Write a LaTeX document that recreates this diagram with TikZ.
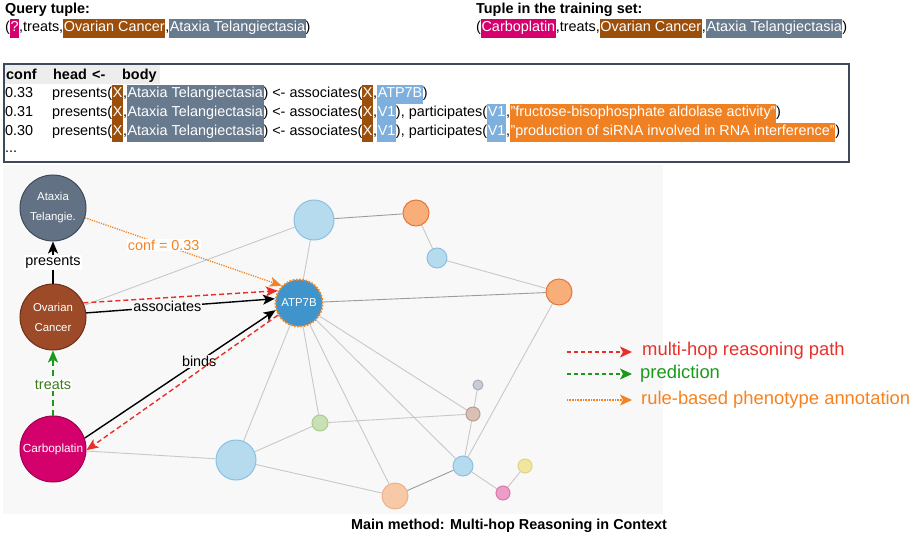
\documentclass[tikz,border=0pt]{standalone}
\usepackage{fontspec}
\setmainfont{Liberation Sans}
\usetikzlibrary{arrows.meta}
\pgfdeclarelayer{bg}
\pgfsetlayers{bg,main}
\definecolor{qmag}{HTML}{D5006E}
\definecolor{ovc}{HTML}{9C4F0B}
\definecolor{atc}{HTML}{687A8D}
\definecolor{vbl}{HTML}{7EAFDD}
\definecolor{orph}{HTML}{F08122}
\definecolor{panel}{HTML}{F8F8F8}
\definecolor{boxln}{HTML}{3C4A5C}
\definecolor{edgeg}{HTML}{C8C8C8}
\definecolor{edged}{HTML}{9C9C9C}
\definecolor{lbF}{HTML}{B6DBEE}\definecolor{lbD}{HTML}{8CC0E0}
\definecolor{orF}{HTML}{F8AE78}\definecolor{orD}{HTML}{E8743A}
\definecolor{peF}{HTML}{F8C9A6}\definecolor{peD}{HTML}{F0B088}
\definecolor{grF}{HTML}{C8E0B4}\definecolor{grD}{HTML}{A8CC90}
\definecolor{gyF}{HTML}{C8CCD4}\definecolor{gyD}{HTML}{A8ACB8}
\definecolor{brF}{HTML}{D8C0B4}\definecolor{brD}{HTML}{BC9A8C}
\definecolor{yeF}{HTML}{F0E6A0}\definecolor{yeD}{HTML}{E0D480}
\definecolor{piF}{HTML}{EC9EC8}\definecolor{piD}{HTML}{D878B0}
\definecolor{axF}{HTML}{627184}\definecolor{axD}{HTML}{3E4A5A}
\definecolor{ovF}{HTML}{9C4A28}\definecolor{ovD}{HTML}{6E3018}
\definecolor{caF}{HTML}{D4006C}\definecolor{caD}{HTML}{A00050}
\definecolor{atpF}{HTML}{3F94CC}
\definecolor{redp}{HTML}{E8302A}
\definecolor{grnp}{HTML}{1A9A1A}
\definecolor{grnt}{HTML}{3A7A1A}
\definecolor{orgp}{HTML}{F5821F}
\newcommand\hl[2]{{\setlength{\fboxsep}{0.6pt}\colorbox{#1}{\textcolor{white}{\strut #2}}}}
\tikzset{
  txt/.style={inner sep=0pt, anchor=base west, font=\fontsize{14.4}{17}\selectfont},
  bold/.style={txt, font=\fontsize{14.4}{17}\selectfont\bfseries},
  gn/.style={circle, line width=1pt, inner sep=0pt},
  big/.style={gn, text=white, align=center, font=\fontsize{11.4}{20}\selectfont, minimum size=66pt},
  ge/.style={draw=edgeg, line width=0.9pt},
  gd/.style={draw=edged, line width=0.9pt},
  tip/.style={-{Stealth[length=12pt,width=10pt,inset=3pt]}},
  blk/.style={tip, draw=black, line width=1.4pt},
  redd/.style={tip, draw=redp, line width=1.4pt, dash pattern=on 5pt off 3pt},
  grnd/.style={tip, draw=grnp, line width=2.2pt, dash pattern=on 6pt off 4pt},
  orgd/.style={tip, draw=orgp, line width=1.3pt, dash pattern=on 1.2pt off 1.2pt},
  lab/.style={inner sep=1pt, font=\fontsize{14.4}{16}\selectfont},
  legt/.style={inner sep=0pt, anchor=west, font=\fontsize{18.4}{20}\selectfont},
  legtip/.style={-{Stealth[length=12pt,width=11pt,inset=3pt]}},
}
\begin{document}
\begin{tikzpicture}[x=1pt,y=-1pt]
\useasboundingbox (0,0) rectangle (918,540);
% panel
\begin{pgfonlayer}{bg}
\fill[panel] (3,165) rectangle (663,514);
\end{pgfonlayer}
% tuples
\node[bold] (qt) at (5,14) {Query tuple:};
\node[txt] (qv) at (5,32) {(\hl{qmag}{?},treats,\hl{ovc}{Ovarian Cancer},\hl{atc}{Ataxia Telangiectasia})};
\node[bold] (tt) at (476,14) {Tuple in the training set:};
\node[txt] (tv) at (476,32) {(\hl{qmag}{Carboplatin},treats,\hl{ovc}{Ovarian Cancer},\hl{atc}{Ataxia Telangiectasia})};
% rule box
\fill[black!7] (5,64) rectangle (160,84);
\draw[boxln, line width=1.2pt] (4,64) rectangle (849,162);
\node[bold] (h1) at (6,80) {conf};
\node[bold] (h2) at (53,80) {head};
\node[bold] (h3) at (92,80) {<-};
\node[bold] (h4) at (122,80) {body};
\node[txt] (c1) at (5,98) {0.33};
\node[txt] (c2) at (5,117) {0.31};
\node[txt] (c3) at (5,136) {0.30};
\node[txt] (c4) at (5,153) {...};
\node[txt] (r1) at (52,98) {presents(\hl{ovc}{X},\hl{atc}{Ataxia Telangiectasia}) <- associates(\hl{ovc}{X},\hl{vbl}{ATP7B})};
\node[txt] (r2) at (52,117) {presents(\hl{ovc}{X},\hl{atc}{Ataxia Telangiectasia}) <- associates(\hl{ovc}{X},\hl{vbl}{V1}), participates(\hl{vbl}{V1},\hl{orph}{"fructose-bisophosphate aldolase activity"})};
\node[txt] (r3) at (52,136) {presents(\hl{ovc}{X},\hl{atc}{Ataxia Telangiectasia}) <- associates(\hl{ovc}{X},\hl{vbl}{V1}), participates(\hl{vbl}{V1},\hl{orph}{"production of siRNA involved in RNA interference"})};
% graph nodes
\node[big, fill=axF, draw=axD] (ax) at (53,208) {Ataxia\\Telangie.};
\node[big, fill=ovF, draw=ovD] (ov) at (53,317) {Ovarian\\Cancer};
\node[big, fill=caF, draw=caD, font=\fontsize{11.8}{14}\selectfont] (ca) at (53,449) {Carboplatin};
\node[gn, fill=atpF, draw=orgp, line width=2pt, dash pattern=on 1.6pt off 1.6pt, minimum size=47pt, text=white, font=\fontsize{11.4}{13}\selectfont] (atp) at (299,303) {ATP7B};
\node[gn, fill=lbF, draw=lbD, minimum size=40pt] (b1) at (314,220) {};
\node[gn, fill=orF, draw=orD, minimum size=26pt] (o1) at (416,213) {};
\node[gn, fill=lbF, draw=lbD, minimum size=20pt] (b2) at (437,258) {};
\node[gn, fill=orF, draw=orD, minimum size=26pt] (o2) at (559,292) {};
\node[gn, fill=gyF, draw=gyD, minimum size=10pt] (gy) at (478,385) {};
\node[gn, fill=brF, draw=brD, minimum size=14pt] (br) at (473,414) {};
\node[gn, fill=grF, draw=grD, minimum size=16pt] (gr) at (320,423) {};
\node[gn, fill=lbF, draw=lbD, minimum size=20pt] (b3) at (463,466) {};
\node[gn, fill=yeF, draw=yeD, minimum size=14pt] (ye) at (525,466) {};
\node[gn, fill=piF, draw=piD, minimum size=14pt] (pi) at (503,493) {};
\node[gn, fill=peF, draw=peD, minimum size=26pt] (pe) at (395,496) {};
\node[gn, fill=lbF, draw=lbD, minimum size=40pt] (b4) at (236,460) {};
% grey edges
\begin{pgfonlayer}{bg}
\draw[ge] (ov) -- (b1);
\draw[gd] (b1) -- (o1);
\draw[ge] (b1) -- (atp);
\draw[ge] (o1) -- (b2);
\draw[ge] (b2) -- (o2);
\draw[gd] (atp) -- (o2);
\draw[ge] (o2) -- (b3);
\draw[ge] (atp) -- (br);
\draw[ge] (atp) -- (b3);
\draw[ge] (atp) -- (pe);
\draw[ge] (atp) -- (gr);
\draw[ge] (atp) -- (b4);
\draw[ge] (gr) -- (b4);
\draw[ge] (gr) -- (br);
\draw[ge] (gy) -- (br);
\draw[ge] (br) -- (b3);
\draw[gd] (b3) -- (pe);
\draw[ge] (b3) -- (pi);
\draw[ge] (pi) -- (ye);
\draw[ge] (b4) -- (pe);
\draw[ge] (ca) -- (b4);
\end{pgfonlayer}
% arrows
\draw[orgd] (ax.-17) -- node[lab, fill=white, text=orgp, pos=0.4] (lconf) {conf = 0.33} (atp.135);
\draw[blk] (ov) -- node[lab, fill=white, pos=0.5] (lpres) {presents} (ax);
\draw[grnd] (ca) -- node[lab, fill=white, text=grnt, pos=0.47] (ltr) {treats} (ov);
\draw[blk] (ov.7) -- node[lab, fill=panel, pos=0.43] (lass) {associates} (atp.170);
\draw[redd] (ov.25) -- (atp.150);
\draw[blk] (ca.19) -- node[lab, fill=panel, pos=0.6] (lbind) {binds} (atp.197);
\draw[redd] (atp.210) -- (ca.-2);
% legend
\coordinate (l1a) at (567,352); \coordinate (l1b) at (632,352);
\coordinate (l2a) at (567,374); \coordinate (l2b) at (632,374);
\coordinate (l3a) at (567,400); \coordinate (l3b) at (632,400);
\draw[redp, line width=1.1pt, dash pattern=on 4pt off 3pt, legtip] (l1a) -- (l1b);
\draw[grnp, line width=1.1pt, dash pattern=on 4pt off 3pt, legtip] (l2a) -- (l2b);
\draw[orgp, line width=1.1pt, dash pattern=on 1pt off 0.6pt, legtip] (l3a) -- (l3b);
\node[legt, text=redp] (t1) at (642,351) {multi-hop reasoning path};
\node[legt, text=grnp] (t2) at (640,374) {prediction};
\node[legt, text=orgp] (t3) at (641,400) {rule-based phenotype annotation};
% caption
\node[inner sep=0pt, font=\fontsize{14.4}{16}\selectfont\bfseries] (cap) at (509,526) {Main method: Multi-hop Reasoning in Context};
\end{tikzpicture}
\end{document}
